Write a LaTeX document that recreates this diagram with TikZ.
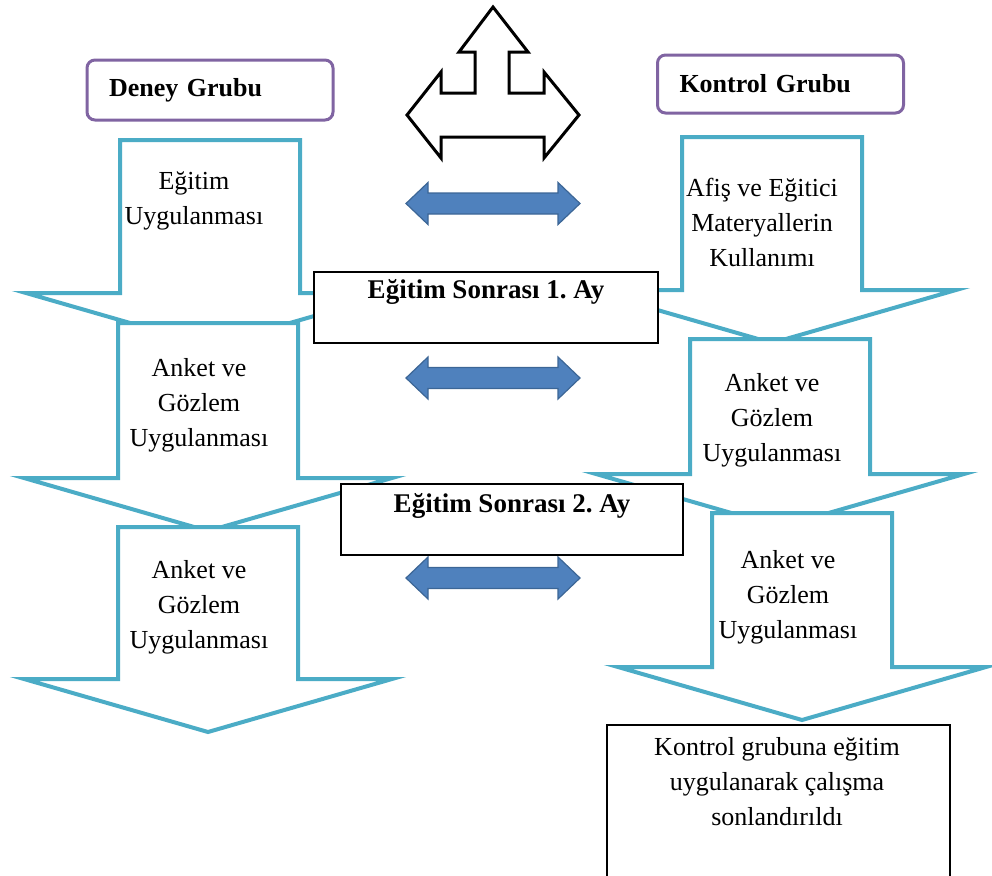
\documentclass[tikz,border=0pt]{standalone}
\usepackage{fontspec}
\setmainfont{Liberation Serif}
\usetikzlibrary{positioning}
\definecolor{aqua}{HTML}{4BACC6}
\definecolor{grape}{HTML}{8064A2}
\definecolor{steel}{HTML}{4F81BD}
\definecolor{steeldark}{HTML}{3C6696}
\frenchspacing
% block arrow pointing down: centre x, top y, y of the head base
\newcommand{\downblock}[3]{%
  \draw[blockarr] (#1-90,#2) -- (#1+90,#2) -- (#1+90,#3) -- (#1+184,#3)
    -- (#1,#3+53) -- (#1-184,#3) -- (#1-90,#3) -- cycle;}
% blue two-headed arrow: centre y
\newcommand{\twinarrow}[1]{%
  \draw[twin] (406,#1) -- (428,#1-21) -- (428,#1-10.5) -- (558,#1-10.5)
    -- (558,#1-21) -- (580,#1) -- (558,#1+21) -- (558,#1+10.5)
    -- (428,#1+10.5) -- (428,#1+21) -- cycle;}

\begin{document}
\begin{tikzpicture}[
  x=0.5pt, y=-0.5pt,
  font=\fontsize{13}{17.5}\selectfont,
  blockarr/.style={draw=aqua, fill=white, line width=2pt},
  twin/.style={draw=steeldark, fill=steel, line width=0.6pt},
  forkarr/.style={draw=black, fill=white, line width=1.5pt},
  grp/.style={draw=grape, fill=white, line width=1.5pt, rounded corners=4pt,
              text width=101pt, inner xsep=11pt, align=left,
              font=\fontsize{13}{16}\selectfont\bfseries},
  monthbox/.style={draw=black, fill=white, line width=1pt},
  monthtxt/.style={font=\fontsize{13.5}{16}\selectfont\bfseries, inner sep=0pt},
  steptxt/.style={align=center, inner sep=0pt}
]
  \useasboundingbox (0,0) rectangle (992,875);

  % --- group headers ---
  \node[grp, minimum height=30pt] (deney) at (210,90) {Deney Grubu};
  \node[grp, minimum height=29pt] (kontrol) at (780.5,84) {Kontrol Grubu};

  % --- three-way arrow at the top ---
  \draw[forkarr] (493,7) -- (528,52) -- (509,52) -- (509,93) -- (544,93)
    -- (544,72) -- (579,115) -- (544,158) -- (544,137) -- (441,137)
    -- (441,158) -- (407,115) -- (441,72) -- (441,93) -- (475,93)
    -- (475,52) -- (459,52) -- cycle;

  % --- left column ---
  \downblock{210}{140}{293}
  \downblock{208}{323}{478}
  \downblock{208}{527}{679}
  \node[steptxt] (egt) at (194,201) {Eğitim\\Uygulanması};
  \node[steptxt] (ankL1) at (199,405) {Anket ve\\Gözlem\\Uygulanması};
  \node[steptxt] (ankL2) at (199,607) {Anket ve\\Gözlem\\Uygulanması};

  % --- right column ---
  \downblock{772}{137}{290}
  \downblock{780}{339}{474}
  \downblock{802}{513}{667}
  \node[steptxt] (afis) at (762,222) {Afiş ve Eğitici\\Materyallerin\\Kullanımı};
  \node[steptxt] (ankR1) at (772,420) {Anket ve\\Gözlem\\Uygulanması};
  \node[steptxt] (ankR2) at (788,597) {Anket ve\\Gözlem\\Uygulanması};

  % --- links between the groups ---
  \twinarrow{203.5}
  \twinarrow{378}
  \twinarrow{578}

  % --- month boxes ---
  \node[monthbox, minimum width=172pt, minimum height=35.5pt] (ay1) at (486,307.5) {};
  \node[monthtxt] (ay1txt) at ([yshift=-10.5pt]ay1.north) {Eğitim Sonrası 1. Ay};
  \node[monthbox, minimum width=171pt, minimum height=35.5pt] (ay2) at (512,519.5) {};
  \node[monthtxt] (ay2txt) at ([yshift=-11.5pt]ay2.north) {Eğitim Sonrası 2. Ay};

  % --- closing box (runs off the page) ---
  \node[monthbox, minimum width=171.5pt, minimum height=77.5pt] (son) at (778.5,802.5) {};
  \node[steptxt] (sontxt) at (777,782) {Kontrol grubuna eğitim\\uygulanarak çalışma\\sonlandırıldı};
\end{tikzpicture}
\end{document}
